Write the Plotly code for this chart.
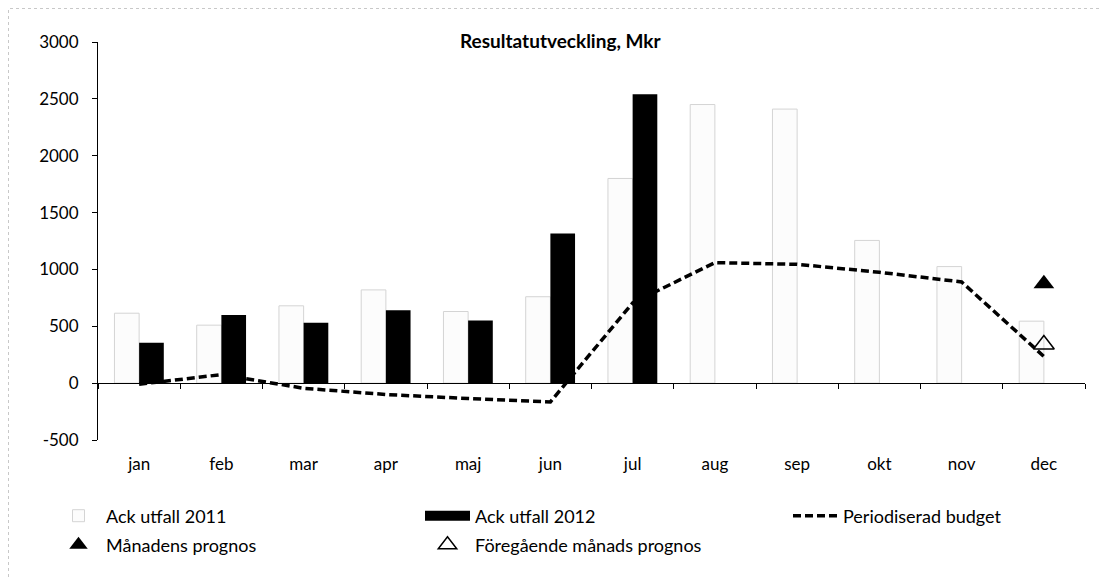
import plotly.graph_objects as go

months = ["jan", "feb", "mar", "apr", "maj", "jun", "jul", "aug", "sep", "okt", "nov", "dec"]
ack_2011 = [615, 510, 680, 820, 630, 760, 1800, 2450, 2410, 1255, 1025, 545]
ack_2012 = [355, 600, 530, 640, 550, 1315, 2540, None, None, None, None, None]
budget = [-10, 75, -45, -100, -135, -165, 705, 1060, 1045, 975, 890, 235]
manadens_prognos = [None] * 11 + [873]
foregaende_prognos = [None] * 11 + [340]
y_ticks = [-500, 0, 500, 1000, 1500, 2000, 2500, 3000]

FONT = "Lato"

fig = go.Figure()

fig.add_trace(go.Bar(
    x=months, y=ack_2011, name="Ack utfall 2011",
    marker=dict(color="rgba(252,252,252,1)", line=dict(color="#d4d4d4", width=1)),
    legend="legend",
))
fig.add_trace(go.Bar(
    x=months, y=ack_2012, name="Ack utfall 2012",
    marker=dict(color="black", line=dict(width=0)),
    showlegend=False,
))
# legend proxy for the black bar series (wide block symbol)
fig.add_trace(go.Scatter(
    x=[None], y=[None], mode="lines", name="Ack utfall 2012",
    line=dict(color="black", width=12), legend="legend2",
))
fig.add_trace(go.Scatter(
    x=months, y=budget, mode="lines", name="Periodiserad budget",
    line=dict(color="black", width=3.5, dash="8px,4px"), legend="legend3",
))
fig.add_trace(go.Scatter(
    x=months, y=manadens_prognos, mode="markers", name="Månadens prognos",
    marker=dict(symbol="triangle-up", size=18, color="black"), legend="legend4",
))
fig.add_trace(go.Scatter(
    x=months, y=foregaende_prognos, mode="markers", name="Föregående månads prognos",
    marker=dict(symbol="triangle-up-open", size=18, color="black", line=dict(width=1.5)),
    legend="legend5",
))
# helper trace on the zero-line axis (ticks at category boundaries)
fig.add_trace(go.Scatter(
    x=months, y=[None] * 12, mode="markers", xaxis="x2", showlegend=False, hoverinfo="skip",
))

OFF = 8  # page body margin
W, H = 1110 - OFF, 577 - OFF
L, T = 98 - OFF, 42 - OFF
R = W - (1085 - OFF)
B = H - (440 - OFF)
pw = W - L - R
ph = H - T - B

def px(xw):
    return (xw - OFF - L) / pw

def py(yw):
    return (H - B - (yw - OFF)) / ph

legfont = dict(family=FONT, size=18, color="black")
def leg(x, y):
    return dict(x=px(x), y=py(y), xanchor="left", yanchor="middle", orientation="h",
                font=legfont, bgcolor="rgba(0,0,0,0)", borderwidth=0, itemwidth=45)

fig.update_layout(
    width=W, height=H,
    margin=dict(l=L, r=R, t=T, b=B, autoexpand=False),
    paper_bgcolor="white", plot_bgcolor="white",
    barmode="group", bargap=0.40, bargroupgap=0,
    font=dict(family=FONT, size=17, color="black"),
    xaxis=dict(type="category", categoryorder="array", categoryarray=months,
               range=[-0.5, 11.5], showline=False, ticks="", showgrid=False,
               zeroline=False, ticklabelstandoff=12, tickfont=dict(size=17)),
    xaxis2=dict(type="category", categoryorder="array", categoryarray=months,
                overlaying="x", anchor="free", position=500 / 3500,
                range=[-0.5, 11.5], tickson="boundaries", ticks="outside", ticklen=5,
                tickcolor="black", showline=True, linecolor="black", linewidth=1,
                showticklabels=False, showgrid=False, zeroline=False),
    yaxis=dict(range=[-500, 3000], tickvals=y_ticks, ticktext=[str(v) for v in y_ticks],
               showline=True, linecolor="black",
               linewidth=1, ticks="outside", ticklen=5, tickcolor="black",
               showgrid=False, zeroline=False, tickfont=dict(size=17),
               ticklabelstandoff=10),
    legend=leg(51, 516),
    legend2=leg(420, 516),
    legend3=leg(788, 516),
    legend4=leg(51, 545),
    legend5=leg(420, 545),
    annotations=[dict(text="<b>Resultatutveckling, Mkr</b>", x=px(560), y=py(40),
                      xref="paper", yref="paper", showarrow=False,
                      font=dict(family=FONT, size=19, color="black"),
                      xanchor="center", yanchor="middle")],
    shapes=[dict(type="path", xref="paper", yref="paper",
                 path=f"M {px(8.5)} {py(577)} L {px(8.5)} {py(8.5)} L {px(1110)} {py(8.5)}",
                 line=dict(color="#c8c8c8", width=1, dash="dot"))],
    hovermode=False,
)

fig.write_html("out.html")
